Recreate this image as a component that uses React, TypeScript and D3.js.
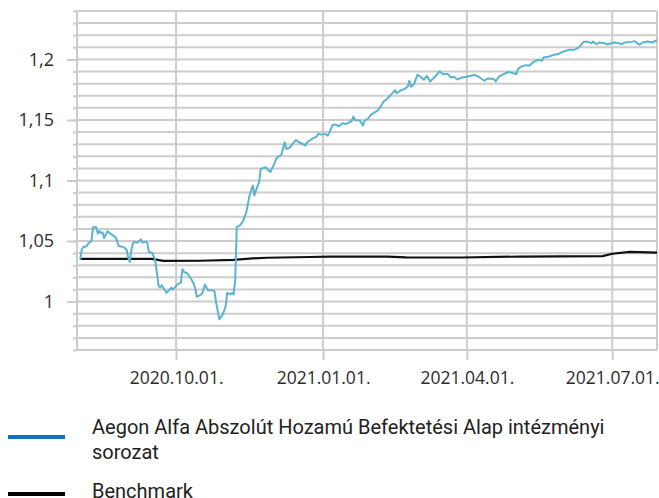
import React, { useEffect, useRef } from "react";
import * as d3 from "d3";

// fund (intézményi sorozat)
const fundDates = [
  "2020-08-02", "2020-08-03", "2020-08-04", "2020-08-06", "2020-08-07", "2020-08-09",
  "2020-08-10", "2020-08-12", "2020-08-13", "2020-08-14", "2020-08-15", "2020-08-16",
  "2020-08-17", "2020-08-19", "2020-08-21", "2020-08-23", "2020-08-24", "2020-08-25",
  "2020-08-26", "2020-08-29", "2020-08-31", "2020-09-01", "2020-09-02", "2020-09-03",
  "2020-09-04", "2020-09-05", "2020-09-07", "2020-09-09", "2020-09-10", "2020-09-12",
  "2020-09-13", "2020-09-14", "2020-09-16", "2020-09-18", "2020-09-20", "2020-09-21",
  "2020-09-22", "2020-09-24", "2020-09-25", "2020-09-27", "2020-09-28", "2020-09-29",
  "2020-09-30", "2020-10-02", "2020-10-04", "2020-10-05", "2020-10-06", "2020-10-08",
  "2020-10-10", "2020-10-12", "2020-10-13", "2020-10-14", "2020-10-17", "2020-10-18",
  "2020-10-19", "2020-10-21", "2020-10-23", "2020-10-25", "2020-10-26", "2020-10-27",
  "2020-10-28", "2020-10-30", "2020-11-01", "2020-11-02", "2020-11-04", "2020-11-05",
  "2020-11-06", "2020-11-07", "2020-11-08", "2020-11-10", "2020-11-12", "2020-11-14",
  "2020-11-16", "2020-11-18", "2020-11-19", "2020-11-20", "2020-11-22", "2020-11-23",
  "2020-11-26", "2020-11-28", "2020-11-29", "2020-12-01", "2020-12-03", "2020-12-06",
  "2020-12-07", "2020-12-08", "2020-12-09", "2020-12-11", "2020-12-13", "2020-12-15",
  "2020-12-17", "2020-12-21", "2020-12-22", "2020-12-25", "2020-12-28", "2020-12-29",
  "2020-12-31", "2021-01-02", "2021-01-04", "2021-01-05", "2021-01-07", "2021-01-09",
  "2021-01-11", "2021-01-13", "2021-01-15", "2021-01-17", "2021-01-19", "2021-01-20",
  "2021-01-21", "2021-01-24", "2021-01-26", "2021-01-27", "2021-01-29", "2021-01-31",
  "2021-02-04", "2021-02-06", "2021-02-08", "2021-02-10", "2021-02-12", "2021-02-15",
  "2021-02-16", "2021-02-19", "2021-02-21", "2021-02-23", "2021-02-24", "2021-02-25",
  "2021-02-27", "2021-03-01", "2021-03-03", "2021-03-05", "2021-03-07", "2021-03-09",
  "2021-03-12", "2021-03-15", "2021-03-17", "2021-03-20", "2021-03-22", "2021-03-24",
  "2021-03-26", "2021-03-29", "2021-04-01", "2021-04-06", "2021-04-09", "2021-04-12",
  "2021-04-14", "2021-04-18", "2021-04-19", "2021-04-21", "2021-04-24", "2021-04-27",
  "2021-04-30", "2021-05-02", "2021-05-03", "2021-05-05", "2021-05-08", "2021-05-10",
  "2021-05-13", "2021-05-16", "2021-05-18", "2021-05-19", "2021-05-22", "2021-05-25",
  "2021-05-28", "2021-05-31", "2021-06-04", "2021-06-07", "2021-06-10", "2021-06-13",
  "2021-06-16", "2021-06-18", "2021-06-19", "2021-06-21", "2021-06-23", "2021-06-26",
  "2021-06-28", "2021-07-02", "2021-07-05", "2021-07-07", "2021-07-09", "2021-07-13",
  "2021-07-15", "2021-07-18", "2021-07-20", "2021-07-23", "2021-07-26", "2021-07-29",
];
const fundValues = [
  1.0347, 1.043, 1.0451, 1.0457, 1.0479, 1.0498,
  1.0611, 1.0616, 1.0561, 1.0583, 1.0566, 1.0572,
  1.0525, 1.058, 1.0561, 1.0542, 1.0533, 1.0506,
  1.0459, 1.0451, 1.043, 1.0369, 1.0327, 1.0424,
  1.0479, 1.0492, 1.0487, 1.0514, 1.0487, 1.0495,
  1.0484, 1.041, 1.0404, 1.0341, 1.0135, 1.0116,
  1.0135, 1.0094, 1.0072, 1.01, 1.0116, 1.01,
  1.0113, 1.0144, 1.0154, 1.0267, 1.0245, 1.0232,
  1.0196, 1.0149, 1.0108, 1.0039, 1.0061, 1.0088,
  1.0141, 1.0094, 1.0094, 1.0088, 0.9998, 0.9929,
  0.9855, 0.9888, 0.9957, 1.0072, 1.0059, 1.0072,
  1.0059, 1.0177, 1.0616, 1.063, 1.0665, 1.0739,
  1.0877, 1.0959, 1.0877, 1.0918, 1.0986, 1.1096,
  1.111, 1.1083, 1.1069, 1.1124, 1.1187, 1.1215,
  1.1269, 1.1316, 1.1261, 1.1269, 1.1302, 1.1335,
  1.1316, 1.1289, 1.1316, 1.1343, 1.1363, 1.1385,
  1.1379, 1.1385, 1.1371, 1.1398, 1.1459, 1.1462,
  1.1448, 1.1472, 1.1467, 1.1476, 1.1495, 1.1528,
  1.15, 1.1495, 1.1455, 1.1495, 1.1508, 1.1544,
  1.1577, 1.161, 1.1654, 1.1673, 1.1701, 1.1747,
  1.1722, 1.1747, 1.1755, 1.1777, 1.1824, 1.1775,
  1.1797, 1.1873, 1.1857, 1.1832, 1.1865, 1.1818,
  1.1857, 1.1901, 1.1879, 1.1879, 1.1851, 1.1857,
  1.1835, 1.1851, 1.1857, 1.1873, 1.1851, 1.1824,
  1.1843, 1.1838, 1.1818, 1.1857, 1.1879, 1.1896,
  1.1887, 1.1879, 1.192, 1.1942, 1.1953, 1.1948,
  1.1983, 1.1997, 1.1989, 1.2016, 1.2022, 1.2036,
  1.2044, 1.2063, 1.2079, 1.2079, 1.2098, 1.2145,
  1.2145, 1.2134, 1.2148, 1.2126, 1.214, 1.2134,
  1.2123, 1.214, 1.2134, 1.2126, 1.214, 1.2145,
  1.2151, 1.2121, 1.214, 1.2148, 1.214, 1.2159,
];

// benchmark
const benchDates = [
  "2020-08-02", "2020-09-16", "2020-09-23", "2020-10-16", "2020-11-06", "2020-11-18",
  "2020-11-27", "2020-12-24", "2021-01-05", "2021-02-10", "2021-02-22", "2021-03-29",
  "2021-05-05", "2021-06-25", "2021-07-01", "2021-07-12", "2021-07-29",
];
const benchValues = [
  1.0352, 1.0352, 1.0336, 1.0337, 1.0345, 1.0357,
  1.0362, 1.0368, 1.0371, 1.0372, 1.0365, 1.0364,
  1.0372, 1.0375, 1.0395, 1.041, 1.0404,
];

const yTicks = [1, 1.05, 1.1, 1.15, 1.2];
const xTicks = ["2020-10-01", "2021-01-01", "2021-04-01", "2021-07-01"];
const xExtent = ["2020-07-31", "2021-07-29"];
const yExtent = [0.96, 1.24];

const legendNames = [
  ["Aegon Alfa Abszolút Hozamú Befektetési Alap intézményi", "sorozat"],
  ["Benchmark"],
];

const App = () => {
  const svgRef = useRef(null);
  const width = 659;
  const height = 498;
  const plot = { left: 77, right: 657, top: 11, bottom: 350 };

  useEffect(() => {
    const svg = d3.select(svgRef.current);
    svg.selectAll("*").remove();

    const parse = d3.timeParse("%Y-%m-%d");
    const x = d3
      .scaleTime()
      .domain(xExtent.map((d) => parse(d)))
      .range([plot.left, plot.right]);
    const y = d3.scaleLinear().domain(yExtent).range([plot.bottom, plot.top]);

    const hu = d3.formatLocale({
      decimal: ",",
      thousands: " ",
      grouping: [3],
      currency: ["", ""],
    });
    const fmt = hu.format("~g");
    const grid = "#cccccc";

    // horizontal grid, every 0,01
    const minor = d3.range(0, 29).map((i) => yExtent[0] + i * 0.01);
    svg
      .append("g")
      .selectAll("line")
      .data(minor)
      .enter()
      .append("line")
      .attr("x1", plot.left)
      .attr("x2", plot.right)
      .attr("y1", (d) => y(d))
      .attr("y2", (d) => y(d))
      .attr("stroke", grid)
      .attr("stroke-width", 2);

    // vertical grid at the quarter starts
    svg
      .append("g")
      .selectAll("line")
      .data(xTicks)
      .enter()
      .append("line")
      .attr("x1", (d) => x(parse(d)))
      .attr("x2", (d) => x(parse(d)))
      .attr("y1", plot.top)
      .attr("y2", plot.bottom)
      .attr("stroke", grid)
      .attr("stroke-width", 2);

    // frame sides
    svg
      .append("g")
      .selectAll("line")
      .data([plot.left, plot.right])
      .enter()
      .append("line")
      .attr("x1", (d) => d)
      .attr("x2", (d) => d)
      .attr("y1", plot.top)
      .attr("y2", plot.bottom)
      .attr("stroke", grid)
      .attr("stroke-width", 2);

    // left axis: short minor ticks, long major ticks with labels
    const minorAxis = svg
      .append("g")
      .attr("transform", "translate(" + plot.left + ",0)")
      .call(d3.axisLeft(y).tickValues(minor).tickSize(4).tickFormat(() => ""));
    const yAxis = svg
      .append("g")
      .attr("transform", "translate(" + plot.left + ",0)")
      .call(d3.axisLeft(y).tickValues(yTicks).tickSize(10).tickPadding(13).tickFormat(fmt));
    [minorAxis, yAxis].forEach((g) => {
      g.select(".domain").remove();
      g.selectAll("line").attr("stroke", grid).attr("stroke-width", 2);
    });
    yAxis
      .selectAll("text")
      .attr("fill", "#2b2b2b")
      .style("font-family", "'Open Sans', sans-serif")
      .style("font-size", "18px");

    const xAxis = svg
      .append("g")
      .attr("transform", "translate(0," + plot.bottom + ")")
      .call(
        d3
          .axisBottom(x)
          .tickValues(xTicks.map((d) => parse(d)))
          .tickSize(10)
          .tickPadding(12)
          .tickFormat(d3.timeFormat("%Y.%m.%d."))
      );
    xAxis.select(".domain").remove();
    xAxis.selectAll("line").attr("stroke", grid).attr("stroke-width", 2);
    xAxis
      .selectAll("text")
      .attr("fill", "#2b2b2b")
      .style("font-family", "'Open Sans', sans-serif")
      .style("font-size", "17.5px");

    // series
    const line = d3
      .line()
      .x((d) => x(d[0]))
      .y((d) => y(d[1]));

    const fund = fundDates.map((d, i) => [parse(d), fundValues[i]]);
    const bench = benchDates.map((d, i) => [parse(d), benchValues[i]]);

    svg
      .append("path")
      .datum(bench)
      .attr("d", line)
      .attr("fill", "none")
      .attr("stroke", "#111")
      .attr("stroke-width", 2.2);

    svg
      .append("path")
      .datum(fund)
      .attr("d", line)
      .attr("fill", "none")
      .attr("stroke", "#5bb4cf")
      .attr("stroke-width", 2)
      .attr("stroke-linejoin", "round");

    // legend
    const legendColors = ["#1273b9", "#000"];
    const legendY = [437, 494];
    const legend = svg
      .append("g")
      .selectAll("g")
      .data(legendNames)
      .enter()
      .append("g");
    legend
      .append("line")
      .attr("x1", 8)
      .attr("x2", 65)
      .attr("y1", (d, i) => legendY[i])
      .attr("y2", (d, i) => legendY[i])
      .attr("stroke", (d, i) => legendColors[i])
      .attr("stroke-width", 4);
    legend
      .append("text")
      .attr("x", 92)
      .attr("y", (d, i) => (i === 0 ? 434 : 498))
      .attr("fill", "#222")
      .style("font-family", "Roboto, sans-serif")
      .style("font-size", "20px")
      .selectAll("tspan")
      .data((d) => d)
      .enter()
      .append("tspan")
      .attr("x", 92)
      .attr("dy", (d, i) => (i === 0 ? 0 : 25))
      .text((d) => d);
  }, []);

  return (
    <svg
      ref={svgRef}
      width={width}
      height={height}
      style={{ position: "absolute", left: 0, top: 0, background: "#fff" }}
    ></svg>
  );
};

export default App;
